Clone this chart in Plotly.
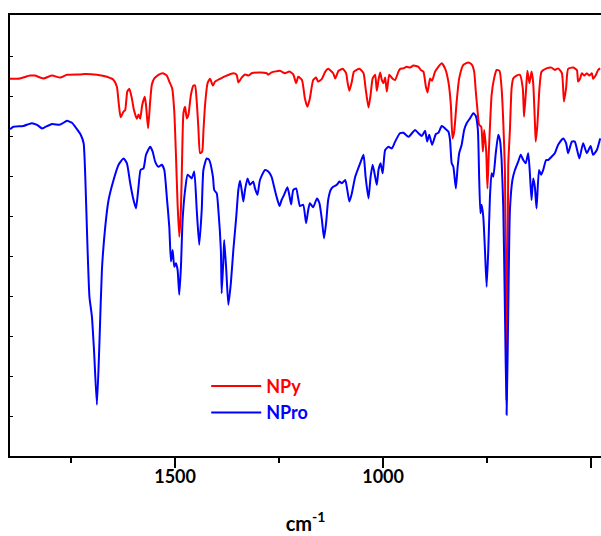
import plotly.graph_objects as go

# IR spectra, wavenumber in cm^-1 and transmittance (arbitrary offset units)
npy_wn = [1897, 1873, 1849, 1837, 1817, 1796, 1776, 1760, 1728, 1716, 1688, 1664, 1648,
          1640, 1636, 1631, 1624, 1620, 1615, 1610, 1604, 1599, 1592, 1588, 1584, 1579,
          1573, 1570, 1565, 1560, 1556, 1550, 1540, 1530, 1520, 1514, 1507, 1502, 1498,
          1494, 1490, 1486, 1483, 1480, 1476, 1472, 1468, 1462, 1456, 1452, 1448, 1444,
          1440, 1435, 1432, 1428, 1422, 1416, 1409, 1404, 1392, 1376, 1360, 1352, 1348,
          1340, 1332, 1324, 1316, 1296, 1280, 1276, 1268, 1248, 1236, 1225, 1216, 1209,
          1204, 1195, 1188, 1182, 1176, 1168, 1161, 1156, 1147, 1139, 1132, 1120, 1115,
          1107, 1097, 1089, 1085, 1081, 1075, 1070, 1057, 1047, 1042, 1035, 1030, 1025,
          1019, 1015, 1011, 1007, 1003, 999, 995, 991, 985, 977, 971, 963, 959, 951, 943,
          935, 927, 915, 909, 903, 897, 893, 887, 882, 875, 867, 859, 851, 843, 837, 833,
          829, 823, 817, 807, 795, 787, 781, 777, 773, 769, 764, 760, 757, 752, 749, 746,
          743, 739, 733, 727, 720, 715, 711, 707, 703, 699, 695, 691, 687, 679, 671, 664,
          661, 656, 653, 648, 643, 639, 635, 633, 629, 624, 619, 607, 595, 587, 579, 570,
          565, 560, 555, 543, 534, 531, 526, 522, 516, 510, 504, 498, 495, 488, 483, 478]
npy_t = [94.3, 94.4, 95.1, 95.1, 94.4, 95.1, 94.6, 95.3, 95.4, 95.5, 95.3, 94.8, 94.0,
         92.3, 88.6, 84.7, 86.1, 86.5, 91.1, 91.8, 89.4, 86.5, 84.3, 85.4, 84.3, 87.8,
         89.8, 87.8, 81.9, 88.6, 92.8, 94.4, 95.3, 95.7, 95.1, 93.6, 91.9, 86.1, 75.3,
         62.8, 54.8, 61.9, 75.3, 85.7, 87.3, 84.4, 85.3, 90.3, 92.6, 92.6, 88.6, 81.9,
         75.7, 76.1, 81.1, 87.8, 93.2, 94.3, 92.6, 93.6, 94.3, 95.1, 95.7, 95.3, 93.4,
         94.6, 95.4, 95.1, 95.7, 95.9, 95.7, 95.3, 95.9, 96.3, 95.7, 96.1, 95.4, 93.2,
         94.8, 94.0, 89.4, 87.3, 89.4, 94.0, 94.6, 93.6, 94.3, 96.1, 96.8, 95.7, 94.4,
         96.3, 96.8, 95.7, 93.2, 91.3, 93.6, 96.1, 96.8, 95.7, 91.9, 87.1, 90.3, 94.4,
         95.3, 91.3, 94.0, 95.9, 94.0, 93.2, 94.6, 91.1, 95.3, 94.3, 94.0, 96.1, 96.8,
         96.9, 97.3, 97.1, 97.6, 97.3, 96.5, 96.1, 92.3, 90.9, 94.4, 93.8, 96.1, 97.3,
         98.2, 96.9, 93.6, 87.8, 79.4, 81.1, 88.6, 94.4, 97.8, 98.4, 97.9, 96.1, 91.1,
         86.5, 82.8, 82.3, 76.1, 81.5, 76.1, 66.9, 75.3, 82.3, 90.3, 94.4, 96.5, 96.3,
         91.9, 83.6, 71.1, 14.0, 72.8, 81.5, 91.9, 94.4, 95.1, 95.3, 91.9, 84.8, 91.9,
         96.3, 93.2, 96.1, 93.2, 83.6, 78.6, 82.8, 91.9, 96.1, 96.9, 97.1, 96.5, 96.9,
         95.7, 88.6, 91.9, 96.8, 97.1, 96.5, 93.6, 94.4, 95.7, 95.1, 95.7, 95.1, 95.7,
         94.3, 95.3, 96.5, 96.9]

npro_wn = [1897, 1889, 1865, 1845, 1832, 1820, 1813, 1796, 1778, 1770, 1760, 1748, 1736,
           1727, 1720, 1716, 1711, 1706, 1700, 1695, 1688, 1682, 1676, 1668, 1660, 1648,
           1636, 1624, 1616, 1608, 1600, 1594, 1588, 1583, 1576, 1570, 1560, 1554, 1548,
           1540, 1532, 1526, 1520, 1514, 1510, 1506, 1502, 1498, 1494, 1490, 1486, 1482,
           1476, 1470, 1464, 1460, 1454, 1448, 1442, 1436, 1432, 1424, 1418, 1409, 1406,
           1400, 1396, 1390, 1388, 1384, 1382, 1377, 1372, 1366, 1360, 1353, 1348, 1344,
           1340, 1336, 1332, 1326, 1320, 1312, 1308, 1302, 1296, 1284, 1276, 1268, 1262,
           1256, 1249, 1244, 1238, 1230, 1225, 1221, 1216, 1209, 1204, 1200, 1192, 1185,
           1180, 1176, 1168, 1159, 1153, 1147, 1142, 1137, 1132, 1126, 1120, 1111, 1105,
           1099, 1091, 1086, 1081, 1075, 1067, 1055, 1047, 1042, 1035, 1030, 1025, 1019,
           1015, 1011, 1006, 1001, 995, 987, 979, 971, 961, 959, 951, 939, 923, 915, 907,
           899, 894, 889, 882, 873, 867, 859, 851, 843, 839, 835, 831, 825, 821, 817, 811,
           805, 799, 791, 783, 777, 772, 769, 766, 763, 759, 755, 751, 747, 743, 739, 735,
           729, 723, 719, 715, 711, 707, 703, 699, 695, 689, 683, 675, 669, 663, 657, 651,
           647, 643, 639, 635, 631, 625, 620, 615, 608, 603, 595, 587, 579, 567, 560, 555,
           546, 539, 528, 519, 510, 501, 495, 486, 478]
npro_t = [81.7, 82.3, 82.5, 83.2, 82.8, 81.9, 82.2, 83.0, 82.8, 83.2, 83.8, 83.3, 81.7,
          80.3, 78.2, 69.8, 53.2, 39.8, 34.8, 26.5, 12.8, 28.2, 46.5, 57.3, 64.0, 69.0,
          72.8, 74.4, 73.2, 68.2, 64.0, 61.9, 67.3, 71.5, 71.9, 75.3, 77.3, 76.1, 73.6,
          72.3, 72.8, 71.5, 64.8, 57.3, 48.6, 51.5, 47.3, 48.2, 46.5, 40.3, 47.3, 59.0,
          66.5, 70.3, 69.8, 69.4, 71.1, 61.5, 52.8, 61.5, 71.5, 74.4, 74.0, 69.8, 66.5,
          65.7, 61.5, 51.5, 40.7, 49.0, 54.0, 46.5, 37.8, 43.2, 51.5, 59.8, 66.5, 68.8,
          66.5, 63.6, 66.5, 69.4, 67.8, 68.6, 66.9, 65.3, 69.0, 71.5, 71.1, 69.8, 67.3,
          64.8, 62.5, 64.0, 65.3, 67.2, 65.0, 62.9, 66.5, 66.9, 64.4, 62.5, 62.8, 58.2,
          61.5, 63.2, 62.2, 64.4, 63.2, 59.0, 54.4, 58.2, 64.0, 66.5, 67.3, 67.8, 68.6,
          68.2, 69.0, 66.5, 63.6, 65.7, 69.8, 73.2, 75.3, 69.8, 64.4, 69.8, 72.8, 69.8,
          67.8, 71.5, 73.2, 70.7, 76.5, 77.3, 76.9, 78.6, 80.5, 80.7, 80.8, 79.8, 81.5,
          80.7, 80.0, 81.3, 78.6, 80.3, 77.8, 80.5, 80.8, 82.5, 81.9, 81.1, 79.0, 73.2,
          72.3, 66.9, 71.9, 75.7, 77.8, 81.5, 83.2, 84.4, 85.7, 85.0, 81.5, 69.8, 60.7,
          62.8, 59.8, 51.5, 42.3, 51.5, 64.8, 70.7, 69.8, 75.7, 80.3, 79.0, 74.0, 62.3,
          36.5, 10.3, 36.5, 61.5, 69.0, 71.5, 73.6, 75.3, 74.0, 73.2, 75.7, 70.7, 64.0,
          69.4, 67.3, 61.9, 71.5, 70.3, 71.5, 74.0, 74.0, 74.8, 75.7, 77.8, 79.4, 78.2,
          75.7, 78.6, 78.6, 74.4, 78.2, 75.7, 77.5, 75.3, 76.5, 79.4]

x_major = [1500, 1000, 500]
x_labels = ["1500", "1000", "500"]
y_ticks = list(range(0, 111, 10))

FONT = "Lato, Open Sans, Arial, sans-serif"

fig = go.Figure()
fig.add_trace(go.Scatter(
    x=npy_wn, y=npy_t, mode="lines", legendgroup="a",
    name='<span style="color:#ff0000">NPy</span>',
    line=dict(color="#ff0000", width=2, shape="spline", smoothing=0.5),
))
fig.add_trace(go.Scatter(
    x=npro_wn, y=npro_t, mode="lines", legendgroup="b",
    name='<span style="color:#0000ff">NPro</span>',
    line=dict(color="#0000ff", width=2, shape="spline", smoothing=0.5),
))

fig.update_layout(
    width=601, height=536,
    margin=dict(l=10, r=0, t=15, b=80),
    paper_bgcolor="white", plot_bgcolor="white",
    font=dict(family=FONT, size=17, color="black"),
    showlegend=True,
    legend=dict(
        x=0.332, y=0.2, xanchor="left", yanchor="top",
        bgcolor="rgba(0,0,0,0)", borderwidth=0,
        font=dict(family=FONT, size=18, weight="bold"),
        itemwidth=50, traceorder="grouped", tracegroupgap=0,
    ),
    xaxis=dict(
        range=[1897, 476], autorange=False,
        tickmode="array", tickvals=x_major, ticktext=x_labels,
        ticks="outside", ticklen=10, tickwidth=2, tickcolor="black",
        ticklabelstandoff=-7,
        minor=dict(dtick=250, tick0=0, ticks="outside", ticklen=5,
                   tickwidth=2, tickcolor="black", showgrid=False),
        showline=True, linewidth=2, linecolor="black", mirror=True,
        showgrid=False, zeroline=False,
        tickfont=dict(family=FONT, size=18, weight="bold", color="black"),
        title=dict(text="cm<sup>-1</sup>", standoff=31,
                   font=dict(family=FONT, size=20, weight="bold", color="black")),
    ),
    yaxis=dict(
        range=[0, 110.25], autorange=False,
        tickmode="array", tickvals=y_ticks, showticklabels=False,
        ticks="inside", ticklen=3, tickwidth=1, tickcolor="black",
        showline=True, linewidth=2, linecolor="black", mirror=False,
        showgrid=False, zeroline=False,
    ),
)

fig.write_html("out.html")
